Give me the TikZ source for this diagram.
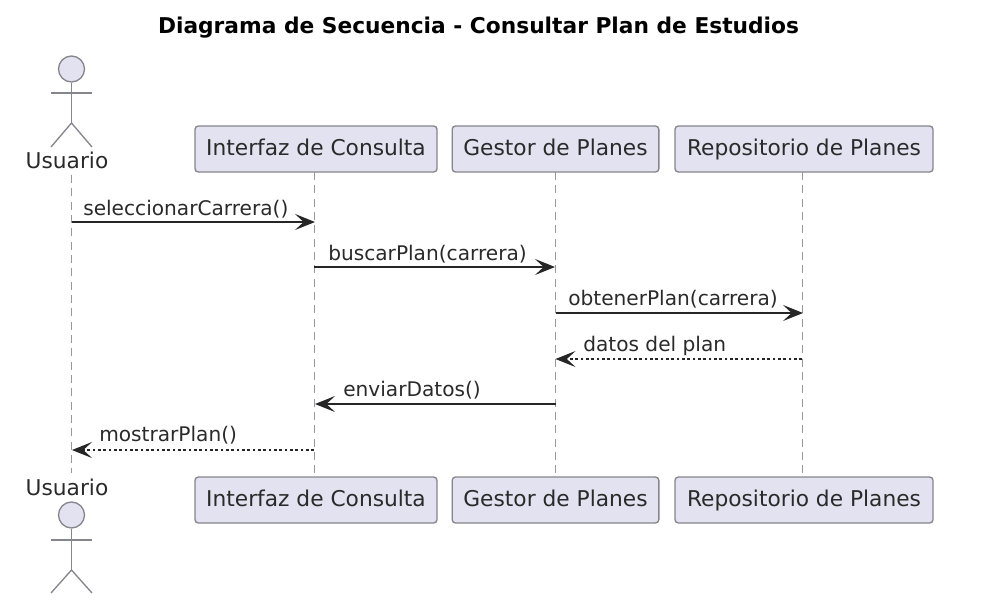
\documentclass[tikz,border=0pt]{standalone}
\usepackage{fontspec}
\setmainfont{DejaVu Sans}
\usetikzlibrary{arrows.meta}
\definecolor{pfill}{HTML}{E2E2F0}
\definecolor{pline}{HTML}{85858C}
\definecolor{ptext}{HTML}{2A2A2A}
\tikzset{
  x=0.75pt,y=-0.75pt,
  participant/.style={draw=pline,fill=pfill,line width=1pt,rounded corners=2.5pt,minimum height=34.5pt,inner sep=0pt,text=ptext,text height=12pt,text depth=2pt,font=\fontsize{16.3}{18}\selectfont},
  actorline/.style={draw=pline,line width=1pt},
  lifeline/.style={draw=pline!85,line width=0.75pt,dash pattern=on 6pt off 4pt},
  msg/.style={draw=black!85,line width=1pt,-{Stealth[length=15pt,width=12pt,inset=6.5pt]}},
  reply/.style={draw=black!85,line width=0.8pt,dash pattern=on 2pt off 2pt,-{Stealth[length=15pt,width=12pt,inset=6.5pt]}},
  msglabel/.style={anchor=base west,inner sep=0pt,text=ptext,font=\fontsize{15.1}{17}\selectfont},
  actorlabel/.style={anchor=base,inner sep=0pt,text=ptext,font=\fontsize{16.3}{18}\selectfont},
}
\begin{document}
\begin{tikzpicture}
\useasboundingbox (0,0) rectangle (995,611);
\node[anchor=base,font=\bfseries\fontsize{16.3}{18}\selectfont,text=black,inner sep=0pt] (title) at (478.5,33) {Diagrama de Secuencia - Consultar Plan de Estudios};
% participants
\node[participant,minimum width=181.5pt] (it) at (316,149) {Interfaz de Consulta};
\node[participant,minimum width=155pt] (gt) at (555.5,149) {Gestor de Planes};
\node[participant,minimum width=193.5pt] (rt) at (804,149) {Repositorio de Planes};
\node[participant,minimum width=181.5pt] (ib) at (316,500) {Interfaz de Consulta};
\node[participant,minimum width=155pt] (gb) at (555.5,500) {Gestor de Planes};
\node[participant,minimum width=193.5pt] (rb) at (804,500) {Repositorio de Planes};
\node[actorlabel] (ut) at (67,168) {Usuario};
\node[actorlabel] (ub) at (67,495.5) {Usuario};
% lifeline anchors
\coordinate (u0) at (71.5,175);
\coordinate (u1) at (71.5,473);
\coordinate (i0) at (314,172);
\coordinate (i1) at (314,477);
\coordinate (g0) at (555.5,172);
\coordinate (g1) at (555.5,477);
\coordinate (r0) at (802,172);
\coordinate (r1) at (802,477);
\draw[lifeline] (u0) -- (u1);
\draw[lifeline] (i0) -- (i1);
\draw[lifeline] (g0) -- (g1);
\draw[lifeline] (r0) -- (r1);
% actors
\begin{scope}[actorline]
\node[circle,draw=pline,fill=pfill,line width=1pt,minimum size=19.5pt,inner sep=0pt] (h1) at (71.5,69) {};
\draw (h1.south) -- (71.5,123) coordinate (w1);
\draw (51,93) -- (92,93);
\draw (51,147) -- (w1) -- (92,147);
\node[circle,draw=pline,fill=pfill,line width=1pt,minimum size=19.5pt,inner sep=0pt] (h2) at (71.5,515) {};
\draw (h2.south) -- (71.5,570) coordinate (w2);
\draw (51,540) -- (92,540);
\draw (51,593) -- (w2) -- (92,593);
\end{scope}
% messages
\coordinate (a1) at (71.5,222); \coordinate (b1) at (315,222);
\coordinate (a2) at (314,267); \coordinate (b2) at (555,267);
\coordinate (a3) at (555.5,313); \coordinate (b3) at (803,313);
\coordinate (a4) at (802,359); \coordinate (b4) at (555.5,359);
\coordinate (a5) at (555.5,404); \coordinate (b5) at (315,404);
\coordinate (a6) at (314,450); \coordinate (b6) at (72,450);
\draw[msg] (a1) -- (b1);
\draw[msg] (a2) -- (b2);
\draw[msg] (a3) -- (b3);
\draw[reply] (a4) -- (b4);
\draw[msg] (a5) -- (b5);
\draw[reply] (a6) -- (b6);
\node[msglabel] (m1) at (83,215) {seleccionarCarrera()};
\node[msglabel] (m2) at (328,260) {buscarPlan(carrera)};
\node[msglabel] (m3) at (568,305.5) {obtenerPlan(carrera)};
\node[msglabel] (m4) at (583,351) {datos del plan};
\node[msglabel] (m5) at (343,396) {enviarDatos()};
\node[msglabel] (m6) at (99,441.5) {mostrarPlan()};
\end{tikzpicture}
\end{document}
